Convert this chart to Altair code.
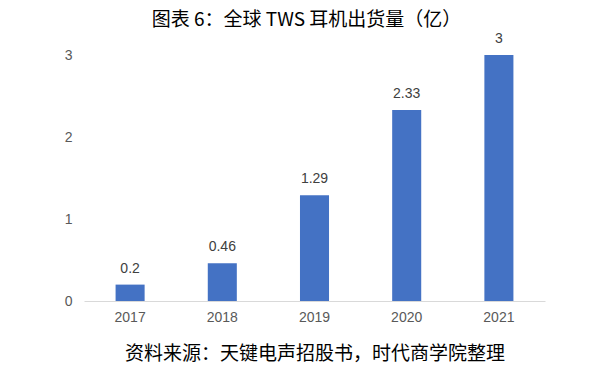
import altair as alt
import pandas as pd

years = ["2017", "2018", "2019", "2020", "2021"]
values = [0.2, 0.46, 1.29, 2.33, 3]
labels = ["0.2", "0.46", "1.29", "2.33", "3"]

title_text = "图表 6：全球 TWS 耳机出货量（亿）"
source_text = "资料来源：天键电声招股书，时代商学院整理"

df = pd.DataFrame({"year": years, "value": values, "label": labels})

cjk = "Noto Sans CJK SC"
num_font = "Liberation Sans"
gray = "#595959"

x = alt.X(
    "year:N",
    sort=years,
    scale=alt.Scale(paddingInner=0.685, paddingOuter=0.3425),
    axis=alt.Axis(
        title=source_text,
        titleFont=cjk,
        titleFontSize=19,
        titleFontWeight="normal",
        titleColor="#000000",
        titlePadding=20,
        labelAngle=0,
        labelFont=num_font,
        labelFontSize=14,
        labelColor=gray,
        labelPadding=9,
        ticks=False,
        domainColor="#d9d9d9",
        domainWidth=1,
        grid=False,
    ),
)
y = alt.Y(
    "value:Q",
    scale=alt.Scale(domain=[0, 3], nice=False),
    axis=alt.Axis(
        title=None,
        values=[0, 1, 2, 3],
        format="d",
        labelFont=num_font,
        labelFontSize=14,
        labelColor=gray,
        labelPadding=12,
        ticks=False,
        domain=False,
        grid=False,
    ),
)

bars = alt.Chart(df).mark_bar(color="#4472c4").encode(x=x, y=y)
text = alt.Chart(df).mark_text(
    baseline="bottom", dy=-9, font=num_font, fontSize=14, color="#404040"
).encode(x=x, y=y, text="label:N")

chart = (
    alt.layer(bars, text)
    .properties(
        width=461,
        height=246,
        title=alt.TitleParams(
            text=title_text,
            font=cjk,
            fontSize=19,
            fontWeight="normal",
            color="#000000",
            anchor="middle",
            dx=-8,
            offset=2,
        ),
        background="white",
        autosize=alt.AutoSizeParams(type="none"),
        padding={"left": 84, "top": 55, "right": 58, "bottom": 75},
    )
    .configure_view(strokeWidth=0, stroke="transparent")
)

chart.save("out.html", embed_options={"renderer": "svg", "actions": False})
